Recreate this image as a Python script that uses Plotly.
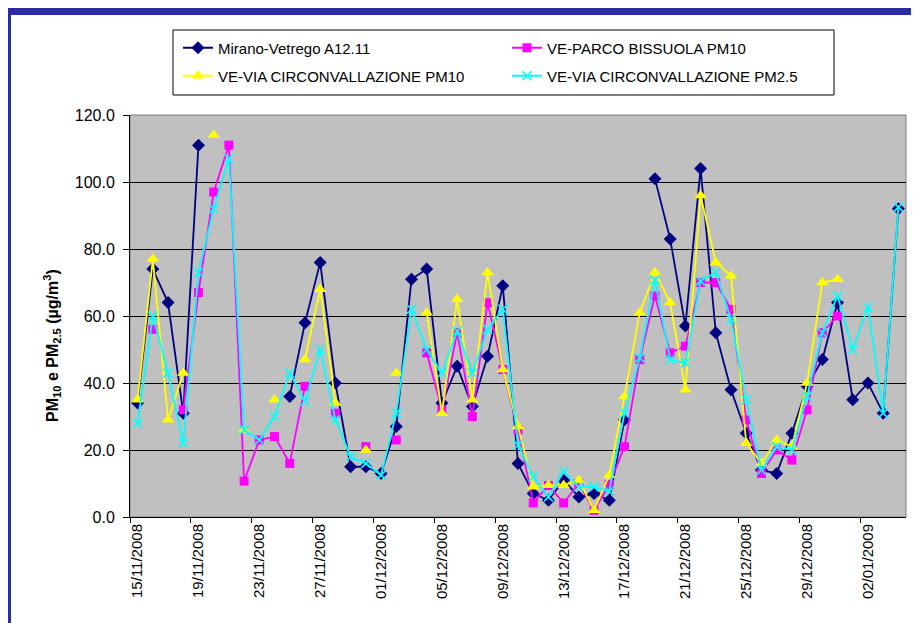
import pandas as pd
import plotly.graph_objects as go

# daily values, 15/11/2008 -> 04/01/2009 (None = no data)
days = pd.date_range('2008-11-15', '2009-01-04', freq='D')

mirano = [34, 74, 64, 31, 111, None, None, None, None, None,
          36, 58, 76, 40, 15, 15, 13, 27, 71, 74,
          34, 45, 33, 48, 69, 16, 7, 5, 11, 6,
          7, 5, 29, None, 101, 83, 57, 104, 55, 38,
          25, 14, 13, 25, 39, 47, 64, 35, 40, 31,
          92]
bissuola = [None, 56, None, 32, 67, 97, 111, 10.7, 23, 24,
            16, 39, None, 31, None, 21, None, 23, None, 49,
            32, 55, 30, 64, 44, 26, 4.2, 9.4, 4.2, 10,
            2, 9.7, 21, 47, 66, 49, 51, 70, 70, 62,
            29, 13, 20, 17, 32, 55, 60, None, None, None,
            None]
circ_pm10 = [35, 77, 29, 43, None, 114, None, 26, None, 35,
             None, 47, 68, 34, None, 20, None, 43, None, 61,
             31, 65, 35, 73, 44, 27, 9, 9.5, 9.5, 11,
             2, 12.5, 36, 61, 73, 64, 38, 96, 76, 72,
             22, 16, 23, 21, 40, 70, 71, None, None, None,
             None]
circ_pm25 = [28, 60, 43, 22, 73, 92, 107, 26, 23, 30,
             43, 34.5, 50, 29, 18, 16, 12.5, 31, 62, 50,
             43, 55.5, 43, 56, 62, 21.5, 12, 6, 13.6, 9,
             9, 7.7, 31, 47.5, 70.7, 47, 46, 70.5, 73, 59,
             35, 14, 21, 20, 36, 55, 66, 50, 62.7, 31,
             92.5]

names = ['Mirano-Vetrego A12.11', 'VE-PARCO BISSUOLA PM10',
         'VE-VIA CIRCONVALLAZIONE PM10', 'VE-VIA CIRCONVALLAZIONE PM2.5']

FONT = 'Liberation Sans, Arial, sans-serif'
W, H = 919, 623
L, R, T, B = 122, 898, 107, 509   # plot area in pixels


def px2x(px):
    return (px - L) / (R - L)


def px2y(py):
    return (B - py) / (B - T)


# points sit in the middle of each day, ticks on the day boundaries
xs = days + pd.Timedelta(hours=12)

series = [
    (mirano, '#000080', dict(symbol='diamond', size=10), 'legend'),
    (bissuola, '#FF00FF', dict(symbol='square', size=9), 'legend'),
    (circ_pm10, '#FFFF00', dict(symbol='triangle-up', size=11), 'legend2'),
    (circ_pm25, '#00FFFF', dict(symbol='x-thin', size=9,
                                line=dict(width=1.6, color='#00FFFF')), 'legend2'),
]

fig = go.Figure()
for (vals, col, mk, leg), nm in zip(series, names):
    fig.add_trace(go.Scatter(x=xs, y=vals, name=nm, mode='lines+markers',
                             line=dict(color=col, width=1.8),
                             marker=dict(color=col, **mk),
                             connectgaps=False, legend=leg))

tick_days = days[::4]
fig.update_xaxes(type='date',
                 range=[days[0], days[-1] + pd.Timedelta(days=1)],
                 tickmode='array',
                 tickvals=tick_days + pd.Timedelta(hours=12),
                 ticktext=[d.strftime('%d/%m/%Y') for d in tick_days],
                 tickangle=-90, ticks='',
                 tickfont=dict(family=FONT, size=15, color='black'),
                 showgrid=False, showline=True, linecolor='black', linewidth=1,
                 minor=dict(ticks='outside', ticklen=5, tickcolor='black',
                            tick0=days[0], dtick=4 * 86400000, showgrid=False))
fig.update_yaxes(range=[0, 120], dtick=20, tickformat='.1f',
                 ticks='outside', ticklen=6, tickcolor='black',
                 ticklabelstandoff=5,
                 tickfont=dict(family=FONT, size=16, color='black'),
                 showgrid=True, gridcolor='black', gridwidth=1,
                 showline=True, linecolor='black', linewidth=1,
                 zeroline=False)

legend_style = dict(orientation='h', xanchor='left', yanchor='middle',
                    entrywidth=284, entrywidthmode='pixels',
                    bgcolor='rgba(0,0,0,0)', borderwidth=0,
                    font=dict(family=FONT, size=15, color='black'))

shapes = [
    # plot area border
    dict(type='rect', xref='paper', yref='paper', x0=0, x1=1, y0=0, y1=1,
         line=dict(color='#808080', width=1), layer='below'),
    # legend box
    dict(type='rect', xref='paper', yref='paper',
         x0=px2x(165), x1=px2x(826), y0=px2y(87), y1=px2y(22),
         line=dict(color='black', width=1)),
    # blue frame of the slide
    dict(type='rect', xref='paper', yref='paper',
         x0=px2x(0), x1=px2x(W), y0=px2y(H), y1=px2y(0),
         line=dict(color='#2B2BA6', width=6)),
    dict(type='rect', xref='paper', yref='paper',
         x0=px2x(0), x1=px2x(W), y0=px2y(7), y1=px2y(0),
         fillcolor='#2B2BA6', line=dict(width=0)),
]

fig.update_layout(
    width=W, height=H,
    margin=dict(l=L, r=W - R, t=T, b=H - B),
    paper_bgcolor='white', plot_bgcolor='#C0C0C0',
    font=dict(family=FONT, color='black'),
    legend=dict(x=px2x(170), y=px2y(40), **legend_style),
    legend2=dict(x=px2x(170), y=px2y(68), **legend_style),
    shapes=shapes,
    annotations=[dict(
        text='<b>PM<sub>10</sub> e PM<sub>2.5</sub> (µg/m<sup>3</sup>)</b>',
        xref='paper', yref='paper', x=px2x(44), y=px2y(338),
        xanchor='center', yanchor='middle',
        showarrow=False, textangle=-90,
        font=dict(family=FONT, size=16, color='black'))],
)

fig.write_html('out.html')
